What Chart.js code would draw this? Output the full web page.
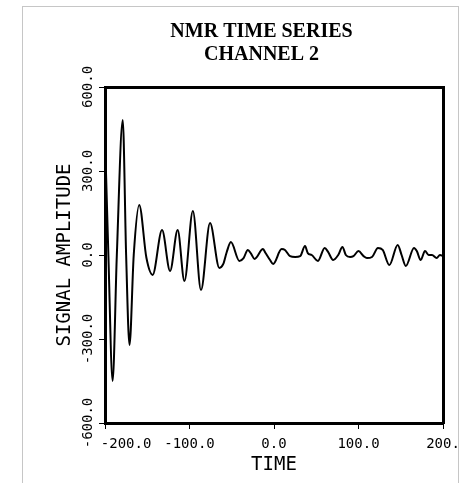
<!DOCTYPE html>
<html>
<head>
<meta charset="utf-8">
<script src="https://cdn.jsdelivr.net/npm/chart.js@4.4.1/dist/chart.umd.min.js"></script>
<style>
  html, body { margin: 0; padding: 0; background: #fff; width: 459px; height: 483px; overflow: hidden; }
  #frame { position: absolute; left: 22px; top: 6px; width: 435px; height: 600px;
           border-left: 1px solid #c6c6c6; border-top: 1px solid #c6c6c6; border-right: 1px solid #c6c6c6; z-index: 0; }
  #c { position: absolute; left: 0; top: 0; z-index: 1; }
</style>
</head>
<body>
<div id="frame"></div>
<canvas id="c" width="459" height="483"></canvas>
<script>
// ---- data ----
const titleLines = ['NMR TIME SERIES', 'CHANNEL 2'];
const xAxisTitle = 'TIME';
const yAxisTitle = 'SIGNAL AMPLITUDE';
const xTickValues = [-200, -100, 0, 100, 200];
const xTickLabels = ['-200.0', '-100.0', '0.0', '100.0', '200.'];
const yTickValues = [-600, -300, 0, 300, 600];
const yTickLabels = ['-600.0', '-300.0', '0.0', '300.0', '600.0'];

const time = [
  -200, -196, -191, -186, -179, -175, -171, -166, -159.5, -151, -143.6,
  -132.5, -123, -114, -106, -96, -86.4, -75.7, -64.7, -60, -56, -51,
  -41, -36, -31, -27, -23, -13, -10, -4.7, -1, 9, 13, 19, 25, 31,
  36.7, 40, 44.6, 52, 60, 64, 70, 76, 81, 85, 90, 94, 100, 106, 110,
  116, 123, 128.6, 136.5, 146.4, 151, 156, 165.7, 169, 173.6, 178.7,
  183, 187, 192.5, 196.4, 200
];
const amplitude = [
  420, 0, -450, 0, 482, 0, -321, 0, 179, -10, -71,
  89, -57, 89, -93, 157, -125, 114, -46, -32, 10, 46,
  -21, -11, 18, 4, -14, 21, 7, -18, -32, 21, 18, -4, -7, -4,
  32, 7, 0, -21, 25, 11, -18, 0, 29, 0, -7, -4, 14, -4, -11,
  -7, 25, 18, -36, 36, 0, -39, 25, 14, -18, 14,
  0, 0, -11, 0, -4
];

const mono = 'DejaVu Sans Mono';
const points = time.map((t, i) => ({ x: t, y: amplitude[i] }));

new Chart(document.getElementById('c'), {
  type: 'line',
  data: {
    datasets: [{
      data: points,
      borderColor: '#000',
      borderWidth: 2,
      pointRadius: 0,
      fill: false,
      cubicInterpolationMode: 'monotone'
    }]
  },
  options: {
    responsive: false,
    animation: false,
    events: [],
    layout: { padding: { left: 80, right: 16, top: 0, bottom: 0 } },
    plugins: {
      legend: { display: false },
      tooltip: { enabled: false },
      title: {
        display: true,
        text: titleLines,
        color: '#000',
        font: { family: 'Liberation Serif', size: 20, weight: 'bold', lineHeight: 1.175 },
        padding: { top: 20, bottom: 20 }
      }
    },
    scales: {
      x: {
        type: 'linear', position: 'bottom', min: -200, max: 200,
        afterBuildTicks: s => { s.ticks = xTickValues.map(v => ({ value: v })); },
        ticks: {
          color: '#000', font: { family: mono, size: 14 }, padding: 7,
          maxRotation: 0, autoSkip: false,
          callback: (v, i) => (i === 0 ? '     ' : '') + xTickLabels[i]
        },
        grid: { display: true, drawOnChartArea: false, drawTicks: true, tickLength: 6, color: '#000', lineWidth: 1 },
        border: { display: true, color: '#000', width: 3 },
        title: { display: true, text: xAxisTitle, color: '#000', font: { family: mono, size: 19 }, padding: { top: 0, bottom: 7 } },
        afterFit: s => { s.height = 60; s.paddingLeft = 0; s.paddingRight = 0; }
      },
      y: {
        type: 'linear', position: 'left', min: -600, max: 600,
        afterBuildTicks: s => { s.ticks = yTickValues.map(v => ({ value: v })); },
        ticks: {
          color: '#000', font: { family: mono, size: 14 }, padding: -14.3,
          minRotation: 90, maxRotation: 90, crossAlign: 'center', autoSkip: false,
          callback: (v, i) => yTickLabels[i]
        },
        grid: { display: true, drawOnChartArea: false, drawTicks: true, tickLength: 6, color: '#000', lineWidth: 1 },
        border: { display: true, color: '#000', width: 3 },
        title: { display: true, text: yAxisTitle, color: '#000', font: { family: mono, size: 19 }, padding: { top: -26.4, bottom: 0 } },
        afterFit: s => { s.width = 25; s.paddingTop = 0; s.paddingBottom = 0; }
      },
      x2: {
        type: 'linear', position: 'top', min: -200, max: 200,
        ticks: { display: false },
        grid: { display: true, drawOnChartArea: false, drawTicks: false },
        border: { display: true, color: '#000', width: 3 },
        afterFit: s => { s.height = 0; s.paddingLeft = 0; s.paddingRight = 0; }
      },
      y2: {
        type: 'linear', position: 'right', min: -600, max: 600,
        ticks: { display: false },
        grid: { display: true, drawOnChartArea: false, drawTicks: false },
        border: { display: true, color: '#000', width: 3 },
        afterFit: s => { s.width = 0; s.paddingTop = 0; s.paddingBottom = 0; }
      }
    }
  }
});
</script>
</body>
</html>
